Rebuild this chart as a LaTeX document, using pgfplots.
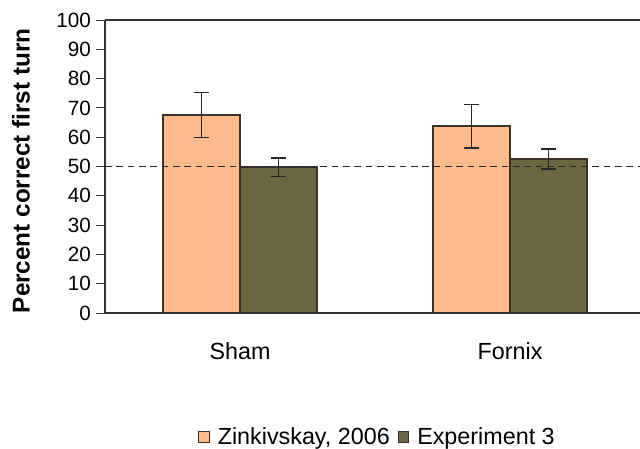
\documentclass[border=0pt]{standalone}
\usepackage{pgfplots}
\pgfplotsset{compat=1.18}
\usepackage{fontspec}
\setmainfont{Liberation Sans}
\definecolor{peach}{HTML}{FDBA8A}
\definecolor{olive}{HTML}{6B6743}
\definecolor{edge}{HTML}{3A3028}
\begin{document}
\begin{tikzpicture}
\useasboundingbox (-78.75pt,-102pt) rectangle (401.25pt,234.75pt);
\begin{axis}[
  at={(0,0)}, anchor=south west,
  scale only axis, width=401.25pt, height=219.75pt,
  xmin=-0.5, xmax=1.481, ymin=0, ymax=100,
  axis x line*=box, axis y line*=left,
  axis line style={black!80, line width=1pt},
  xtick={0,1}, xticklabels={Sham,Fornix},
  xtick pos=bottom,
  x tick style={draw=none},
  extra x ticks={0.5}, extra x tick labels={},
  extra x tick style={major tick length=3pt, tick align=outside, tick style={draw=black!60}},
  xticklabel style={font=\fontsize{17.5}{20}\selectfont, yshift=-12pt},
  ytick={0,10,...,100},
  tick align=outside, major tick length=7pt,
  y tick style={black!80, line width=0.6pt},
  yticklabel style={font=\fontsize{15.5}{18}\selectfont},
  /pgf/number format/assume math mode=true,
  ylabel={\bfseries Percent correct first turn},
  ylabel style={font=\fontsize{18.2}{20}\selectfont, anchor=center, at={(axis description cs:-0.157,0.485)}},
  ybar, bar width=0.285,
  legend style={draw=none, at={(0.51,-0.423)}, anchor=center,
    font=\fontsize{17.5}{20}\selectfont, legend columns=2,
    /tikz/every odd column/.append style={column sep=4pt},
    /tikz/every even column/.append style={column sep=4pt}},
  legend image code/.code={\draw[#1, line width=0.6pt] (0pt,-4pt) rectangle (8pt,4pt);},
  error bars/error bar style={black!85, line width=1.2pt},
  error bars/error mark options={rotate=90, mark size=5.8pt, line width=1.2pt, black!85},
]
\addplot[fill=peach, draw=edge, line width=1.1pt, bar shift=-0.1425,
  error bars/.cd, y dir=both, y explicit]
  coordinates {(0,67.6) +- (0,7.7) (1,63.8) +- (0,7.4)};
\addplot[fill=olive, draw=edge, line width=1.1pt, bar shift=0.1425,
  error bars/.cd, y dir=both, y explicit]
  coordinates {(0,49.8) +- (0,3.2) (1,52.6) +- (0,3.4)};
\legend{{Zinkivskay, 2006},{Experiment 3}}
\addplot[forget plot, sharp plot, black!85, line width=1.1pt, dash pattern=on 5pt off 3.5pt]
  coordinates {(-0.5,50) (1.481,50)};
\end{axis}
\end{tikzpicture}
\end{document}
